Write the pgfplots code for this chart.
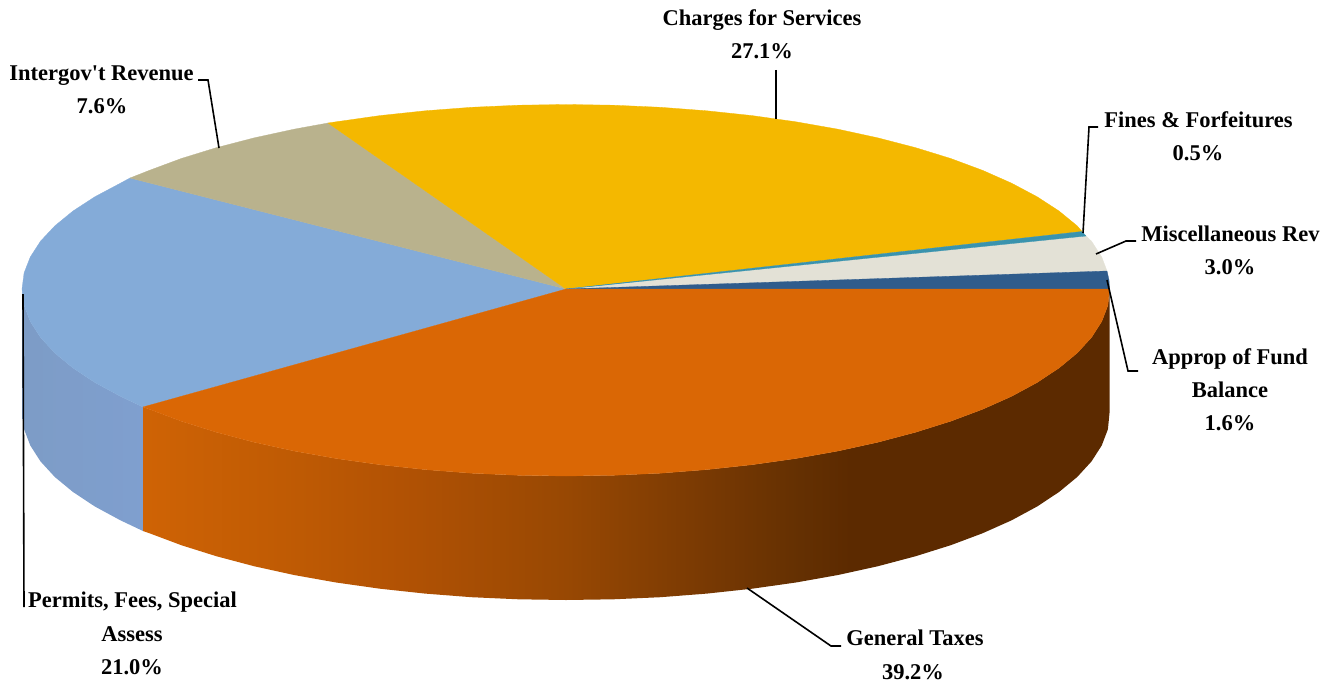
\documentclass[border=0pt]{standalone}
\usepackage{pgfplots}
\pgfplotsset{compat=1.18}
\usepackage{fontspec}
\setmainfont{Liberation Serif}[Ligatures=TeXOff]
\definecolor{cGeneral}{HTML}{DA6705}
\definecolor{cPermits}{HTML}{84ABD8}
\definecolor{cIntergov}{HTML}{B9B28D}
\definecolor{cCharges}{HTML}{F4B800}
\definecolor{cFines}{HTML}{3A93AE}
\definecolor{cMisc}{HTML}{E3E1D6}
\definecolor{cApprop}{HTML}{2F5C8C}
\definecolor{wa}{HTML}{CF6305}
\definecolor{wb}{HTML}{BE5A04}
\definecolor{wc}{HTML}{B25204}
\definecolor{wd}{HTML}{984803}
\definecolor{we}{HTML}{7A3A03}
\definecolor{wf}{HTML}{643002}
\definecolor{wg}{HTML}{5C2A00}
\definecolor{wbl}{HTML}{7D9CC6}
\definecolor{wbr}{HTML}{7F9FCF}
% Side wall of the largest wedge: light at the left, dark from the right third on
\pgfdeclarehorizontalshading{generalwall}{100bp}{%
  color(0bp)=(wa); color(25bp)=(wa); color(33.1bp)=(wb); color(38.3bp)=(wc);
  color(46.9bp)=(wd); color(53.8bp)=(we); color(59bp)=(wf); color(61.6bp)=(wg);
  color(100bp)=(wg)}
\newcommand{\lab}[3]{\node[anchor=base,inner sep=0pt,font=\fontsize{22.5bp}{26bp}\selectfont\bfseries] at (axis cs:#1,#2) {#3};}
\begin{document}
\begin{tikzpicture}
\begin{axis}[
  hide axis, scale only axis, width=1328bp, height=684bp,
  xmin=0, xmax=1328, ymin=0, ymax=684, y dir=reverse,
  clip=false, enlargelimits=false,
]
% page extent
\addplot[draw=none, forget plot] coordinates {(0,0) (1328,684)};

% side walls
\addplot[draw=none, forget plot, left color=wbl, right color=wbr] coordinates {
  (22,289) (24.1,305.3) (30.3,321.5) (40.5,337.4) (54.8,353) (73,368) (94.9,382.5)
  (120.4,396.3) (143,407) (143,531) (120.4,520.3) (94.9,506.5) (73,492) (54.8,477)
  (40.5,461.4) (30.3,445.5) (24.1,429.3) (22,413)} -- cycle;
\addplot[draw=none, forget plot, shading=generalwall] coordinates {
  (143,407) (149.3,409.2) (181.3,421.2) (216.3,432.2) (254,442.2) (294,451) (336.1,458.5)
  (379.9,464.7) (425.2,469.6) (471.5,473.2) (518.6,475.3) (566,476) (613.4,475.3)
  (660.5,473.2) (706.8,469.6) (752.1,464.7) (795.9,458.5) (838,451) (878,442.2)
  (915.7,432.2) (950.7,421.2) (982.7,409.2) (1011.6,396.3) (1037.1,382.5) (1059,368)
  (1077.2,353) (1091.5,337.4) (1101.7,321.5) (1107.9,305.3) (1109.5,289)
  (1109.5,413) (1107.9,429.3) (1101.7,445.5) (1091.5,461.4) (1077.2,477) (1059,492)
  (1037.1,506.5) (1011.6,520.3) (982.7,533.2) (950.7,545.2) (915.7,556.2) (878,566.2)
  (838,575) (795.9,582.5) (752.1,588.7) (706.8,593.6) (660.5,597.2) (613.4,599.3)
  (566,600) (518.6,599.3) (471.5,597.2) (425.2,593.6) (379.9,588.7) (336.1,582.5)
  (294,575) (254,566.2) (216.3,556.2) (181.3,545.2) (149.3,533.2) (143,531)} -- cycle;

% top faces of the wedges
\addplot[fill=cPermits, draw=cPermits, line width=0.3pt, forget plot] coordinates {
  (566,289) (130,178) (120.4,183.2) (94.9,196.75) (73,211) (54.8,225.9) (40.5,241.2)
  (30.3,257) (24.1,272.9) (22,289) (24.1,305.3) (30.3,321.5) (40.5,337.4) (54.8,353)
  (73,368) (94.9,382.5) (120.4,396.3) (143,407)} -- cycle;
\addplot[fill=cIntergov, draw=cIntergov, line width=0.3pt, forget plot] coordinates {
  (566,289) (328,123) (294,129.2) (254,137.9) (216.3,147.7) (181.3,158.5) (149.3,170.4)
  (130,178)} -- cycle;
\addplot[fill=cCharges, draw=cCharges, line width=0.3pt, forget plot] coordinates {
  (566,289) (1082,231.5) (1077.2,225.9) (1059,211) (1037.1,196.75) (1011.6,183.2)
  (982.7,170.4) (950.7,158.5) (915.7,147.7) (878,137.9) (838,129.2) (795.9,121.8)
  (752.1,115.6) (706.8,110.8) (660.5,107.3) (613.4,105.2) (566,104.5) (518.6,105.2)
  (471.5,107.3) (425.2,110.8) (379.9,115.6) (336.1,121.8) (328,123)} -- cycle;
\addplot[fill=cMisc, draw=cMisc, line width=0.3pt, forget plot] coordinates {
  (566,289) (1107,271) (1101.7,257) (1091.5,241.2) (1086,236)} -- cycle;
\addplot[fill=cFines, draw=cFines, line width=0.3pt, forget plot] coordinates {
  (566,289) (1086,236) (1082,231.5)} -- cycle;
\addplot[fill=cApprop, draw=cApprop, line width=0.3pt, forget plot] coordinates {
  (566,289) (1109.5,289) (1109,280) (1107,271)} -- cycle;
\addplot[fill=cGeneral, draw=cGeneral, line width=0.3pt, forget plot] coordinates {
  (566,289) (143,407) (149.3,409.2) (181.3,421.2) (216.3,432.2) (254,442.2) (294,451)
  (336.1,458.5) (379.9,464.7) (425.2,469.6) (471.5,473.2) (518.6,475.3) (566,476)
  (613.4,475.3) (660.5,473.2) (706.8,469.6) (752.1,464.7) (795.9,458.5) (838,451)
  (878,442.2) (915.7,432.2) (950.7,421.2) (982.7,409.2) (1011.6,396.3) (1037.1,382.5)
  (1059,368) (1077.2,353) (1091.5,337.4) (1101.7,321.5) (1107.9,305.3) (1109.5,289)} -- cycle;

% leader lines
\pgfplotsset{leader/.style={black, line width=1.6bp, forget plot, mark=none}}
\addplot[leader] coordinates {(198,80) (208,80) (219,148)};
\addplot[leader] coordinates {(776,70) (776,119)};
\addplot[leader] coordinates {(1098,127) (1089,127) (1083,233)};
\addplot[leader] coordinates {(1136,241) (1126,241) (1096,254)};
\addplot[leader] coordinates {(1107,280) (1128,371) (1138,371)};
\addplot[leader] coordinates {(747,588) (831,646) (841,646)};
\addplot[leader] coordinates {(23,294) (24,607)};

% wedge labels
\lab{762}{25.5}{Charges for Services}
\lab{762}{58.5}{27.1\%}
\lab{101.5}{81}{Intergov't Revenue}
\lab{102}{113.5}{7.6\%}
\lab{1198.5}{127}{Fines \& Forfeitures}
\lab{1198}{160}{0.5\%}
\lab{1230.5}{241}{Miscellaneous Rev}
\lab{1230}{274}{3.0\%}
\lab{1230}{364}{Approp of Fund}
\lab{1230}{397}{Balance}
\lab{1230}{430}{1.6\%}
\lab{915}{645}{General Taxes}
\lab{913}{679}{39.2\%}
\lab{132.5}{607}{Permits, Fees, Special}
\lab{132}{641}{Assess}
\lab{132}{674}{21.0\%}
\end{axis}
\end{tikzpicture}
\end{document}
